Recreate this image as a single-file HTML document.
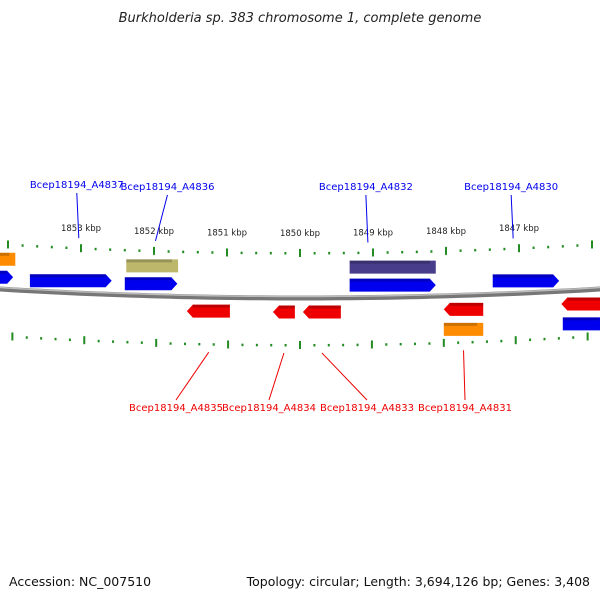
<!DOCTYPE html>
<html><head><meta charset="utf-8"><style>
body{margin:0;background:#fff;}
svg{display:block;font-family:"DejaVu Sans","Liberation Sans",sans-serif;}
</style></head><body>
<svg id="chart" width="600" height="600" viewBox="0 0 600 600" xmlns="http://www.w3.org/2000/svg">
<rect width="600" height="600" fill="#fff"/>
<text x="300" y="22" text-anchor="middle" font-size="13" font-style="italic" fill="#222">Burkholderia sp. 383 chromosome 1, complete genome</text>
<text x="9" y="586" font-size="12.5" fill="#111">Accession: NC_007510</text>
<text x="590" y="586" text-anchor="end" font-size="12.5" fill="#111">Topology: circular; Length: 3,694,126 bp; Genes: 3,408</text>
<g id="layer"></g>
</svg>
<script>
const tickKbp=[1854,1853,1852,1851,1850,1849,1848,1847,1846];
const tickLabels=["1853 kbp","1852 kbp","1851 kbp","1850 kbp","1849 kbp","1848 kbp","1847 kbp"];
const labelKbp=[1853,1852,1851,1850,1849,1848,1847];
const geneStart=[1854.18,1853.70,1852.40,1849.32,1847.36, 1854.18,1852.38,1849.32, 1851.55,1850.37,1849.96,1848.03,1846.42, 1848.03,1846.40];
const geneEnd=[1853.93,1852.58,1851.68,1848.14,1846.45, 1853.90,1851.67,1848.14, 1850.96,1850.07,1849.44,1847.49,1845.82, 1847.49,1845.82];
const geneRow=[1,1,1,1,1, 2,2,2, -1,-1,-1,-1,-1, -2,-2];
const geneColor=["#0000ee","#0000ee","#0000ee","#0000ee","#0000ee","#ff8c00","#bdb76b","#483d8b","#ee0000","#ee0000","#ee0000","#ee0000","#ee0000","#ff8c00","#0000ee"];
const geneArrow=[1,1,1,1,1,0,0,0,-1,-1,-1,-1,-1,0,0];
const topNames=["Bcep18194_A4837","Bcep18194_A4836","Bcep18194_A4832","Bcep18194_A4830"];
const topKbp=[1853.03,1851.98,1849.07,1847.08];
const botNames=["Bcep18194_A4835","Bcep18194_A4834","Bcep18194_A4833","Bcep18194_A4831"];
const botKbp=[1851.25,1850.22,1849.70,1847.76];

const NS="http://www.w3.org/2000/svg";
const g=document.getElementById('layer');
function xs(k){return 300+(1850-k)*73;}
function arc(x){return 298-0.0001*(x-300)*(x-300);}
function mk(t,a){const e=document.createElementNS(NS,t);for(const k in a)e.setAttribute(k,a[k]);g.appendChild(e);return e;}

// backbone
let d="";for(let x=-10;x<=610;x+=10){d+=(x==-10?"M":"L")+x+" "+arc(x).toFixed(1);}
let bb=mk('path',{d:d,stroke:'#777',"stroke-width":5,fill:'none'});


mk('path',{d:d,stroke:'#bbb',"stroke-width":1.5,fill:'none',transform:'translate(0,-1.5)'});

// ticks
for(let k=1854.4;k>=1845.6;k-=0.2){
  const kr=Math.round(k*10)/10;const x=xs(kr);
  const major=Math.abs(kr-Math.round(kr))<0.01;
  const xb=x-(x-300)*0.015;
  [[x,arc(x)-45],[xb,arc(x)+47]].forEach(([px,py])=>{
    const t=mk('rect',{x:px-1,y:major?py-4:py-1,width:2,height:major?8:2.5,fill:'#228b22'});
    
    
  });
}
labelKbp.forEach((k,i)=>{const x=xs(k);
  const t=mk('text',{x:x,y:arc(x)-62,"text-anchor":"middle","font-size":8.5,fill:'#222'});
  t.textContent=tickLabels[i];
  
  
});

// genes
const rowOff={1:-12,2:-30,"-1":14,"-2":34};
geneStart.forEach((s,i)=>{
  const x1=xs(s),x2=xs(geneEnd[i]);const cx=(x1+x2)/2;const cy=arc(cx)+rowOff[geneRow[i]];
  const h=13,a=geneArrow[i];let pts;
  if(a==1)pts=[[x1,cy-h/2],[x2-6,cy-h/2],[x2,cy],[x2-6,cy+h/2],[x1,cy+h/2]];
  else if(a==-1)pts=[[x1+6,cy-h/2],[x2,cy-h/2],[x2,cy+h/2],[x1+6,cy+h/2],[x1,cy]];
  else pts=[[x1,cy-h/2],[x2,cy-h/2],[x2,cy+h/2],[x1,cy+h/2]];
  const p=mk('polygon',{points:pts.map(q=>q.join(',')).join(' '),fill:geneColor[i]});
  
  
  mk('rect',{x:Math.min(x1,x2)+(a==-1?6:0),y:cy-h/2,width:Math.abs(x2-x1)-6,height:3,fill:'#000',opacity:0.2});
});

// labels
topNames.forEach((n,i)=>{const x=xs(topKbp[i]);const ty=187-(i==0?2:0);
  const l=mk('line',{x1:x,y1:arc(x)-55,x2:x-(i==1?-12:2),y2:ty+8,stroke:'#0000ee',"stroke-width":1});
  
  
  const t=mk('text',{x:x-(i==1?-12:2),y:ty+3,"text-anchor":"middle","font-size":10,fill:'#0000ee'});
  t.textContent=n;
  
  
});
const botTx=[176,269,367,465];
botNames.forEach((n,i)=>{const x=xs(botKbp[i]);
  const l=mk('line',{x1:x,y1:arc(x)+55,x2:botTx[i],y2:400,stroke:'#ee0000',"stroke-width":1});
  
  
  const t=mk('text',{x:botTx[i],y:411,"text-anchor":"middle","font-size":10,fill:'#ee0000'});
  t.textContent=n;
  
  
});
</script>
</body></html>
